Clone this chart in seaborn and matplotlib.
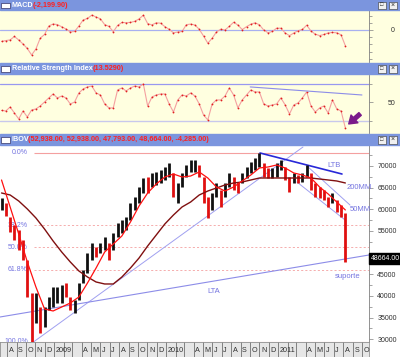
import matplotlib
matplotlib.use('Agg')
import matplotlib.pyplot as plt
import matplotlib.transforms as mtransforms
from matplotlib.patches import Rectangle
import seaborn as sns
import numpy as np
import pandas as pd

# ---- values (14 day bars, jul/2008 - aug/2011) ----
bar_start = '2008-07-14'
ibov_high = [62616, 61462, 58231, 56385, 55231, 52923, 48308, 40692, 40692, 37462,
             37462, 39769, 42077, 42077, 42539, 43000, 39769, 39077, 43000, 46000,
             49923, 52231, 51308, 52231, 53616, 52231, 54539, 56846, 57539, 58231,
             61462, 62846, 65154, 67231, 67462, 68386, 68616, 69077, 69769, 70692,
             68386, 66077, 68386, 70231, 71385, 71385, 70231, 67462, 62846, 63769,
             66077, 64462, 66077, 68386, 67462, 66308, 68386, 69769, 70923, 71846,
             73000, 70692, 69539, 69539, 70692, 71385, 69769, 67462, 68386, 67923,
             68386, 70231, 68386, 66077, 65154, 64462, 62846, 63769, 62154, 61000,
             59154]
ibov_low = [59846, 58462, 54769, 52923, 50616, 48308, 39769, 29435, 33769, 31462,
            32846, 36769, 37462, 38385, 38385, 39769, 36769, 36077, 39077, 43000,
            45308, 48308, 49000, 49923, 50616, 48308, 50616, 53616, 54539, 55231,
            57539, 59846, 61462, 63769, 63769, 65154, 65616, 66077, 66769, 67462,
            62846, 61462, 65154, 67462, 68616, 68616, 67462, 61462, 58000, 59846,
            62846, 60539, 62846, 65154, 64462, 63769, 66077, 67231, 68386, 69077,
            69769, 67462, 67231, 67231, 67462, 69077, 66769, 64000, 66077, 66077,
            66308, 67462, 64462, 62846, 62616, 62154, 60539, 61462, 59385, 58231,
            47793]
ibov_close = [61000, 58923, 55692, 54077, 52923, 49462, 41385, 34923, 39077, 34462,
              36308, 39077, 40231, 40923, 41385, 40923, 37923, 39077, 42539, 45539,
              48769, 51077, 50154, 51539, 52923, 49462, 53385, 55692, 56385, 57077,
              60308, 62154, 64000, 66077, 65616, 66769, 67692, 67923, 68616, 69539,
              64462, 65154, 67462, 69077, 70231, 70692, 67923, 63308, 60308, 62616,
              64462, 62154, 65385, 67231, 66077, 64923, 67692, 69077, 70000, 70923,
              71846, 68616, 67923, 68616, 69539, 70692, 67692, 65385, 67231, 66769,
              67692, 69539, 66077, 64000, 63769, 63077, 61692, 63308, 60308, 59154,
              48664]

ma_start = '2008-07-14'   # moving averages, every 28 days
ma50 = [66770, 60540, 54310, 47850, 42080, 37000, 36540, 37460, 38380, 39770,
        43000, 46460, 50150, 52000, 53850, 57080, 60770, 63770, 65850, 67460,
        68150, 67460, 67690, 68620, 67230, 65150, 64230, 65150, 66540, 67920,
        69540, 69770, 70230, 69540, 68390, 67920, 67230, 65150, 63540, 61690,
        59850]
ma200 = [63770, 63310, 61920, 60080, 58000, 55460, 52690, 50150, 47850, 45770,
         44380, 43230, 42770, 42770, 44380, 46460, 48770, 51540, 54080, 56620,
         58690, 60540, 61690, 63310, 64230, 64920, 65620, 66080, 66310, 66770,
         67230, 67230, 67230, 67230, 67230, 67230, 67230, 67000, 66770, 66540,
         66080]

macd = [-1585, -1473, -1376, -904, -1390, -1946, -2572, -3475, -2641, -1140,
        -626, 556, 834, 751, 445, 139, -264, -209, 556, 1390,
        1599, 2071, 1807, 1557, 751, 500, -236, 626, 1043, 1015,
        1056, 1209, 1543, 2057, 890, 709, 1001, 945, 473, 97,
        -389, -278, -209, 737, 820, 695, 97, -834, -1835, -1154,
        -278, 111, 0, 514, 1070, 695, 56, 459, 806, 1001,
        723, 0, -375, -209, 250, 250, -417, -792, -417, -97,
        70, 667, -139, -584, -778, -626, -403, -348, -389, -667,
        -2200]
rsi = [41.4, 40.8, 45.1, 38.6, 32.2, 40.8, 34.3, 41.9, 43.0, 46.2,
       50.5, 54.9, 59.2, 54.9, 57.0, 54.9, 48.4, 50.5, 60.3, 64.6,
       66.8, 67.8, 60.3, 58.1, 48.4, 44.1, 44.1, 63.5, 65.7, 62.4,
       65.7, 67.8, 66.8, 70.0, 46.2, 55.9, 58.1, 59.2, 59.2, 48.4,
       39.7, 52.7, 58.1, 57.0, 60.3, 57.0, 48.4, 36.5, 31.1, 48.4,
       52.7, 52.7, 57.0, 65.7, 58.1, 44.1, 52.7, 58.1, 63.5, 61.4,
       61.4, 48.4, 46.2, 47.3, 48.4, 54.9, 47.3, 37.6, 47.3, 49.5,
       54.9, 61.4, 46.2, 39.7, 44.1, 46.2, 38.6, 52.7, 43.0, 40.8,
       22.4]

fib_ratios = [0.0, 0.382, 0.5, 0.618, 1.0]
fib_labels = ['0.0%', '38.2%', '50.0%', '61.8%', '100.0%']
fib_top, fib_bottom = 73000, 29435
fib_start = '2008-10-27'

# trend lines: (date, price) pairs
lta_steep = [('2008-10-27', 29435), ('2011-03-23', 74385)]
lta_long = [('2008-07-09', 35150), ('2011-10-24', 49460)]
ltb = [('2010-11-03', 73000), ('2011-07-28', 68150)]
chan_low = [('2011-03-03', 66310), ('2011-08-07', 57540)]
chan_up = [('2011-04-05', 70000), ('2011-08-23', 61000)]
rsi_trend = [('2010-10-02', 66.8), ('2011-10-01', 58.1)]

x_left, x_right = pd.Timestamp('2008-07-09'), pd.Timestamp('2011-10-24')

# ---------------------------------------------------------------------
sns.set_style('white')
plt.rcParams['font.family'] = ['Liberation Sans', 'DejaVu Sans']

W, H = 400, 357
fig = plt.figure(figsize=(4, 3.57), dpi=100)
fig.patch.set_facecolor('white')

def fx(px): return px / W
def fy(py): return 1 - py / H

pale = '#ffffe0'
hdr = '#7b95de'
lab = '#7474e0'
pink = '#f4a0a0'

# panel backgrounds and header bars
fig.patches.append(Rectangle((0, fy(63)), 1, fy(10) - fy(63), transform=fig.transFigure,
                             color=pale, zorder=-5))
fig.patches.append(Rectangle((0, fy(134)), 1, fy(74) - fy(134), transform=fig.transFigure,
                             color=pale, zorder=-5))
headers = [(0, 10, 'MACD', '(-2,199.90)', 33),
           (63, 74, 'Relative Strength Index', '(13.5290)', 93),
           (134, 145, 'IBOV', '(52,938.00, 52,938.00, 47,793.00, 48,664.00, -4,285.00)', 28)]
for top, bot, name, val, vx in headers:
    fig.patches.append(Rectangle((0, fy(bot)), 1, fy(top) - fy(bot), transform=fig.transFigure,
                                 color=hdr, zorder=1))
    fig.patches.append(Rectangle((fx(1), fy(bot - 2)), fx(9), fy(top + 3) - fy(bot - 2),
                                 transform=fig.transFigure, facecolor='white', edgecolor='#333366',
                                 lw=0.5, zorder=2))
    for bx in (378, 389):
        fig.patches.append(Rectangle((fx(bx), fy(bot - 1.5)), fx(8), fy(top + 2) - fy(bot - 1.5),
                                     transform=fig.transFigure, facecolor='#f0f0f0',
                                     edgecolor='#333333', lw=0.4, zorder=2))
    fig.text(fx(382), fy((top + bot) / 2), '□', fontsize=4, ha='center', va='center', zorder=3)
    fig.text(fx(393), fy((top + bot) / 2), '×', fontsize=5, ha='center', va='center', zorder=3)
    fig.text(fx(11.5), fy((top + bot) / 2 + 0.3), name, color='white', fontsize=5.2,
             fontweight='bold', va='center', zorder=3)
    fig.text(fx(vx), fy((top + bot) / 2 + 0.3), val, color='#ff2020', fontsize=5.2,
             fontweight='bold', va='center', zorder=3)

pw = 369 / W
ax_macd = fig.add_axes([0, fy(62), pw, fy(10) - fy(62)])
ax_rsi = fig.add_axes([0, fy(133), pw, fy(75) - fy(133)])
ax = fig.add_axes([0, fy(342), pw, fy(145) - fy(342)])
ax_x = fig.add_axes([0, 0, pw, fy(342)], sharex=ax)

bar_dates = pd.date_range(bar_start, periods=len(ibov_close), freq='14D')
ma_dates = pd.date_range(ma_start, periods=len(ma50), freq='28D')

def style_panel(a, face):
    a.set_facecolor(face)
    for s in ('top', 'left', 'bottom'):
        a.spines[s].set_visible(False)
    a.spines['right'].set_color('#808080')
    a.spines['right'].set_linewidth(0.6)
    a.yaxis.tick_right()
    a.tick_params(axis='y', which='major', length=3, width=0.5, color='#808080',
                  labelsize=5, labelcolor='#303030', pad=3)
    a.tick_params(axis='y', which='minor', length=2, width=0.5, color='#808080')
    a.tick_params(axis='x', which='both', length=0, labelbottom=False)
    a.set_xlim(x_left, x_right)
    a.set_xlabel('')
    a.set_ylabel('')

# ---- MACD ----
ax_macd.axhline(0, color='#a8b0f0', lw=0.9)
sns.lineplot(x=bar_dates, y=macd, ax=ax_macd, color=pink, lw=0.8,
             marker='o', ms=1.3, mfc='#e02020', mec='none')
style_panel(ax_macd, pale)
ax_macd.set_ylim(-4450, 2780)
ax_macd.set_yticks([0])
ax_macd.set_yticks([-4000, -3000, -2000, -1000, 1000, 2000], minor=True)
ax_macd.tick_params(axis='y', which='major', pad=13)

# ---- RSI ----
ax_rsi.axhline(70, color='#9898f0', lw=0.9)
ax_rsi.axhline(30, color='#c8c8ec', lw=1.0)
sns.lineplot(x=bar_dates, y=rsi, ax=ax_rsi, color=pink, lw=0.8,
             marker='o', ms=1.3, mfc='#e02020', mec='none')
ax_rsi.plot(pd.to_datetime([p[0] for p in rsi_trend]), [p[1] for p in rsi_trend],
            color='#8c8ce8', lw=0.8)
ax_rsi.annotate('', xy=(pd.Timestamp('2011-08-19'), 26.8),
                xytext=(pd.Timestamp('2011-09-25'), 37.6),
                arrowprops=dict(facecolor='#7a1a8a', edgecolor='#7a1a8a', width=2.6,
                                headwidth=7.5, headlength=5.5))
style_panel(ax_rsi, pale)
ax_rsi.set_ylim(17, 79.7)
ax_rsi.set_yticks([50])
ax_rsi.set_yticks([30, 70], minor=True)
ax_rsi.tick_params(axis='y', which='major', pad=10.5)

# ---- price ----
closes = np.array(ibov_close)
up = np.r_[True, closes[1:] >= closes[:-1]]
cols = np.where(up, '#101010', '#e01010')

fib_levels = [fib_top - r * (fib_top - fib_bottom) for r in fib_ratios]
for r, lv, lb in zip(fib_ratios, fib_levels, fib_labels):
    solid = r in (0.0, 1.0)
    ax.hlines(lv, pd.Timestamp(fib_start), x_right, color=pink, lw=0.8 if solid else 0.6,
              linestyles='-' if solid else (0, (2.5, 2.5)), zorder=1)
    ax.text(pd.Timestamp('2008-10-08'), lv, lb, color=lab, fontsize=5, ha='right',
            va='center', zorder=1)

for line, c, w in [(lta_steep, '#a0a0f0', 0.7), (lta_long, '#8c8ce8', 0.8),
                   (chan_low, '#a0a0f0', 0.7), (chan_up, '#a0a0f0', 0.7),
                   (ltb, '#2828d8', 1.2)]:
    ax.plot(pd.to_datetime([p[0] for p in line]), [p[1] for p in line], color=c, lw=w, zorder=2)

ax.vlines(bar_dates, ibov_low, ibov_high, colors=cols, lw=2.0, zorder=3)
sns.lineplot(x=ma_dates, y=ma200, ax=ax, color='#801010', lw=1.0, zorder=4)
sns.lineplot(x=ma_dates, y=ma50, ax=ax, color='#ff1010', lw=0.9, zorder=4)

ax.text(pd.Timestamp('2011-06-12'), 70000, 'LTB', color=lab, fontsize=5.5, va='center')
ax.text(pd.Timestamp('2011-08-13'), 65150, '200MM', color=lab, fontsize=5.5, va='center')
ax.text(pd.Timestamp('2011-08-23'), 59846, '50MM', color=lab, fontsize=5.5, va='center')
ax.text(pd.Timestamp('2010-05-14'), 41150, 'LTA', color=lab, fontsize=5.5, va='center')
ax.text(pd.Timestamp('2011-07-05'), 44385, 'suporte', color=lab, fontsize=5.5, va='center')

style_panel(ax, 'white')
ax.set_ylim(29380, 74846)
yt = list(range(30000, 70001, 5000))
ax.set_yticks(yt)
ax.set_yticklabels(['' if v == 50000 else str(v) for v in yt])
ax.set_yticks(range(32500, 72501, 5000), minor=True)
ax.spines['top'].set_visible(True)
ax.spines['top'].set_color('#c0c0d0')
ax.spines['top'].set_linewidth(0.5)
trans = mtransforms.blended_transform_factory(ax.transAxes, ax.transData)
ax.text(1.004, ibov_close[-1], '%.2f' % ibov_close[-1], transform=trans, color='white',
        fontsize=5, va='center', ha='left', clip_on=False, zorder=6,
        bbox=dict(boxstyle='square,pad=0.25', fc='black', ec='black'))

# ---- month strip ----
month_starts = pd.date_range('2008-08-01', '2011-10-01', freq='MS')
ax_x.set_facecolor('#e6e6e6')
ax_x.set_ylim(0, 1)
ax_x.set_yticks([])
for s in ax_x.spines.values():
    s.set_color('#909090')
    s.set_linewidth(0.6)
for d in month_starts:
    ax_x.axvline(d, color='#707070', lw=0.6)
    if d.month == 1:
        txt = str(d.year)
    elif d.month in (2, 3):
        txt = ''
    else:
        txt = 'JFMAMJJASOND'[d.month - 1]
    ax_x.text(d + pd.Timedelta(days=5), 0.45, txt, fontsize=5.2, color='#303030',
              ha='left', va='center')
ax_x.tick_params(axis='x', length=0, labelbottom=False)
ax_x.set_xlim(x_left, x_right)

fig.savefig('out.png', dpi=100, facecolor=fig.get_facecolor())
